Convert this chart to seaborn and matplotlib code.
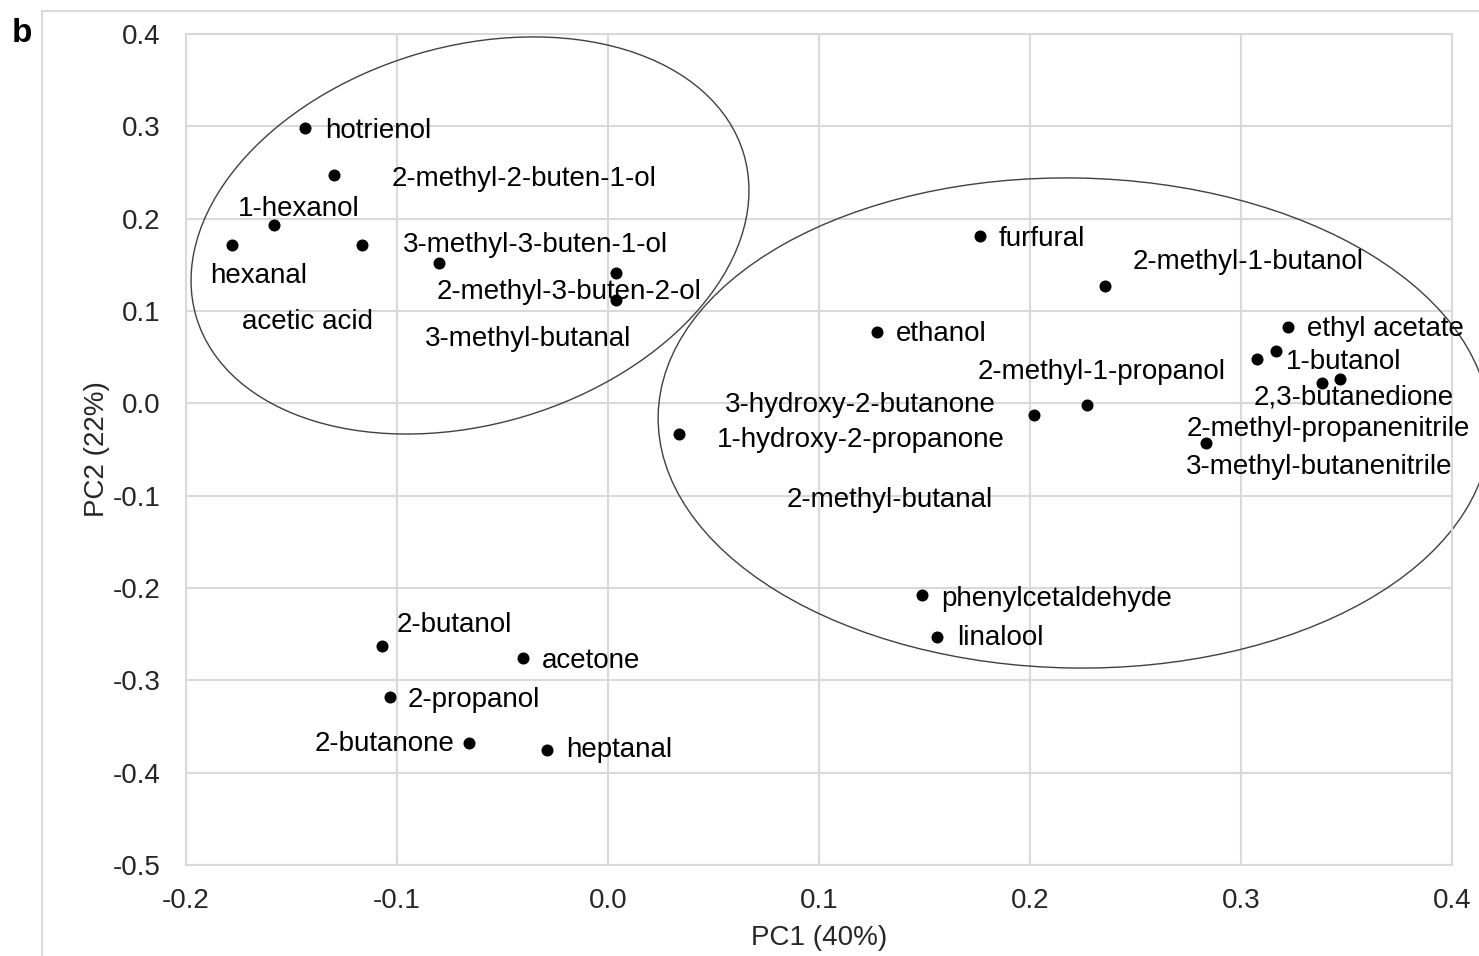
import numpy as np
import pandas as pd
import matplotlib
matplotlib.use("Agg")
import matplotlib.pyplot as plt
import matplotlib.transforms as mtransforms
from matplotlib.patches import Ellipse
from matplotlib.lines import Line2D
import seaborn as sns

# ---- PCA loadings of volatile compounds ----
compounds = [
    "hotrienol", "2-methyl-2-buten-1-ol", "1-hexanol", "hexanal",
    "3-methyl-3-buten-1-ol", "acetic acid", "2-methyl-3-buten-2-ol", "3-methyl-butanal",
    "furfural", "2-methyl-1-butanol", "ethanol", "ethyl acetate", "1-butanol",
    "2-methyl-1-propanol", "2,3-butanedione", "2-methyl-propanenitrile",
    "3-methyl-butanenitrile", "3-hydroxy-2-butanone", "2-methyl-butanal",
    "1-hydroxy-2-propanone", "phenylcetaldehyde", "linalool",
    "2-butanol", "acetone", "2-propanol", "2-butanone", "heptanal",
]
pc1 = [
    -0.1436, -0.1299, -0.1585, -0.1780, -0.1166, -0.0801, 0.0038, 0.0038,
    0.1763, 0.2355, 0.1275, 0.3223, 0.3166, 0.3076, 0.3469, 0.3384,
    0.2834, 0.2019, 0.2270, 0.0336, 0.1488, 0.1559,
    -0.1071, -0.0403, -0.1033, -0.0659, -0.0289,
]
pc2 = [
    0.298, 0.247, 0.193, 0.172, 0.171, 0.152, 0.141, 0.112,
    0.181, 0.127, 0.077, 0.083, 0.057, 0.048, 0.026, 0.022,
    -0.043, -0.013, -0.002, -0.033, -0.208, -0.253,
    -0.263, -0.276, -0.318, -0.368, -0.375,
]

x_ticks = [-0.2, -0.1, 0.0, 0.1, 0.2, 0.3, 0.4]
y_ticks = [-0.5, -0.4, -0.3, -0.2, -0.1, 0.0, 0.1, 0.2, 0.3, 0.4]
x_title = "PC1 (40%)"
y_title = "PC2 (22%)"
panel_tag = "b"

# label placement relative to each point (pixels: right, down) and alignment
label_offsets = [
    (20, 1), (58, 2), (-36, -18), (-22, 30), (41, -2), (-197, 58), (-179, 17), (-191, 38),
    (19, 1), (28, -26), (19, 0), (19, 1), (10, 10), (-279, 11), (-86, 17), (-135, 44),
    (-20, 22), (-309, -12), (-300, 93), (38, 5), (19, 2), (20, 0),
    (15, -23), (19, 1), (18, 2), (-14, -1), (19, -1),
]
label_ha = ["left"] * len(compounds)
label_ha[compounds.index("2-butanone")] = "right"

# cluster outlines: centre (data), semi-axes (inches), rotation (deg)
clusters = [
    ((-0.0654, 0.1818), 2.856, 1.889, 16.6),
    ((0.2209, -0.0213), 4.16, 2.45, -1.0),
]

df = pd.DataFrame({"compound": compounds, "PC1": pc1, "PC2": pc2})

sns.set_theme(style="white")
plt.rcParams["font.family"] = ["Liberation Sans", "DejaVu Sans"]
plt.rcParams["axes.unicode_minus"] = False

W, H, DPI = 1479, 956, 100
FS = 20
PX = 72 / DPI  # points per pixel
fig = plt.figure(figsize=(W / DPI, H / DPI), dpi=DPI)
ax = fig.add_axes([186 / W, 1 - 865 / H, (1452 - 186) / W, (865 - 34) / H])

grid_c = "#d9d9d9"
text_c = "#262626"

sns.scatterplot(data=df, x="PC1", y="PC2", ax=ax, color="black", s=75,
                edgecolor="black", linewidth=0, zorder=3, legend=False)

ax.set_xlim(x_ticks[0], x_ticks[-1])
ax.set_ylim(y_ticks[0], y_ticks[-1])
ax.set_xticks(x_ticks)
ax.set_yticks(y_ticks)
ax.set_xticklabels([f"{v:.1f}" for v in x_ticks])
ax.set_yticklabels([f"{v:.1f}" for v in y_ticks])
ax.tick_params(axis="both", length=0, labelsize=FS, colors=text_c)
ax.tick_params(axis="x", pad=16.5)
ax.tick_params(axis="y", pad=18.5)
ax.grid(True, color=grid_c, linewidth=1.5, zorder=0)
ax.set_axisbelow(True)
for sp in ax.spines.values():
    sp.set_color(grid_c)
    sp.set_linewidth(1.5)

ax.set_xlabel(x_title, fontsize=FS, color=text_c, labelpad=8)
ax.set_ylabel(y_title, fontsize=FS, color=text_c, labelpad=2)

# compound labels
for name, x, y, (dx, dy), ha in zip(compounds, pc1, pc2, label_offsets, label_ha):
    ax.annotate(name, (x, y), xytext=(dx * PX, -(dy + 1.5) * PX),
                textcoords="offset points", ha=ha, va="center",
                fontsize=FS, color="black", zorder=4, annotation_clip=False)

# cluster ellipses drawn in physical units around a data-space centre
for (cx, cy), a, b, ang in clusters:
    tr = fig.dpi_scale_trans + mtransforms.ScaledTranslation(cx, cy, ax.transData)
    e = Ellipse((0, 0), 2 * a, 2 * b, angle=ang, transform=tr, fill=False,
                edgecolor="#404040", linewidth=1.0, clip_on=False, zorder=2)
    ax.add_patch(e)

# outer chart frame
fig.add_artist(Line2D([42 / W, 42 / W], [1 - 11 / H, 0], transform=fig.transFigure,
                      color=grid_c, linewidth=1.5))
fig.add_artist(Line2D([42 / W, 1], [1 - 11 / H, 1 - 11 / H], transform=fig.transFigure,
                      color=grid_c, linewidth=1.5))

fig.text(12 / W, 1 - 42 / H, panel_tag, fontsize=24, fontweight="bold",
         ha="left", va="baseline", color="black")

fig.savefig("out.png", dpi=DPI)
